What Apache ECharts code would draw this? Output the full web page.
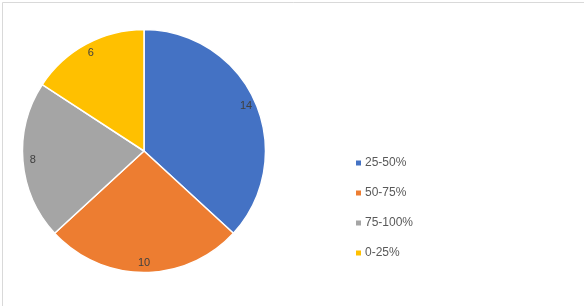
<!DOCTYPE html>
<html>
<head>
<meta charset="utf-8">
<script src="https://cdn.jsdelivr.net/npm/echarts@6/dist/echarts.min.js"></script>
<style>
html,body{margin:0;padding:0;background:#fff;}
#c{width:584px;height:306px;}
</style>
</head>
<body>
<div id="c"></div>
<script>
const categories = ['25-50%', '50-75%', '75-100%', '0-25%'];
const values = [14, 10, 8, 6];
const colors = ['#4472C4', '#ED7D31', '#A5A5A5', '#FFC000'];

const pieData = categories.map((n, i) => ({ name: n, value: values[i], itemStyle: { color: colors[i] } }));
const labelData = categories.map((n, i) => ({ name: n, value: values[i] }));

const chart = echarts.init(document.getElementById('c'), null, { renderer: 'canvas' });
chart.setOption({
  animation: false,
  backgroundColor: '#ffffff',
  graphic: [{
    type: 'rect', left: 0, top: 0, silent: true,
    shape: { x: 0.5, y: 0.5, width: 583, height: 305 },
    style: { fill: 'none', stroke: '#d9d9d9', lineWidth: 1 }
  }],
  legend: {
    orient: 'vertical',
    left: 349,
    top: 151,
    icon: 'rect',
    itemWidth: 7,
    itemHeight: 7,
    itemGap: 16,
    data: categories,
    textStyle: { color: '#595959', fontSize: 12, fontFamily: 'Liberation Sans, Arial, sans-serif', lineHeight: 14, padding: [0, 0, 0, -2] }
  },
  series: [
    {
      type: 'pie',
      center: [144, 151],
      radius: [0, 121.5],
      startAngle: 90,
      clockwise: true,
      silent: true,
      label: { show: false },
      labelLine: { show: false },
      itemStyle: { borderColor: '#ffffff', borderWidth: 1.5 },
      data: pieData
    },
    {
      type: 'pie',
      center: [144, 151],
      radius: [95, 122],
      startAngle: 90,
      clockwise: true,
      silent: true,
      legendHoverLink: false,
      itemStyle: { color: 'rgba(0,0,0,0)', borderWidth: 0 },
      label: {
        show: true, position: 'inside', formatter: '{c}',
        color: '#404040', fontSize: 11, fontFamily: 'Liberation Sans, Arial, sans-serif'
      },
      labelLine: { show: false },
      data: labelData
    }
  ]
});
</script>
</body>
</html>
